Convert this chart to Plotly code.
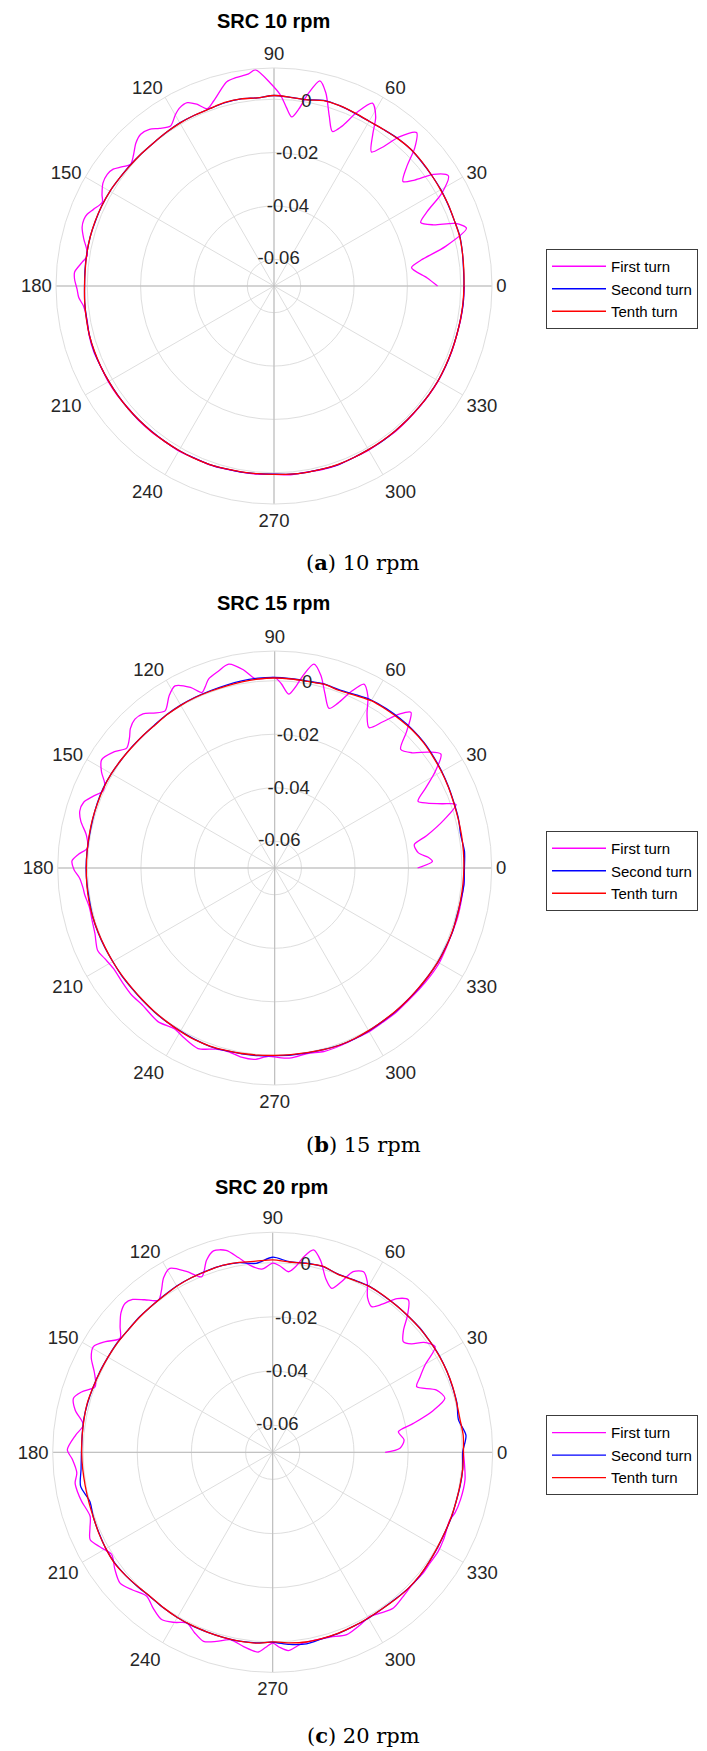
import plotly.graph_objects as go

# ---------------------------------------------------------------------------
# Angular sample grid (degrees) for the steady-state turns
# ---------------------------------------------------------------------------
theta_5deg = [0, 5, 10, 15, 20, 25, 30, 35, 40, 45, 50, 55, 60, 65, 70, 75, 80, 85,
              90, 95, 100, 105, 110, 115, 120, 125, 130, 135, 140, 145, 150, 155,
              160, 165, 170, 175, 180, 185, 190, 195, 200, 205, 210, 215, 220, 225,
              230, 235, 240, 245, 250, 255, 260, 265, 270, 275, 280, 285, 290, 295,
              300, 305, 310, 315, 320, 325, 330, 335, 340, 345, 350, 355, 360]

# ---------------------------- SRC 10 rpm -----------------------------------
rpm10_first_theta = [0, 3, 7.6, 10, 13, 16.7, 19, 21, 23.4, 26, 29, 32.3, 35, 37, 39,
                     42, 44.5, 47.1, 50, 52, 54, 57, 59, 61.7, 64.5, 67, 69.3, 72, 75,
                     77.4, 80, 82, 84, 86, 88, 91, 94.9, 97, 100.4, 103, 105, 108,
                     110.6, 113, 115.3, 118, 120, 122.9, 126, 128.5, 131.3, 134, 137,
                     139.7, 142, 144, 146.2, 149, 152, 154, 157, 159, 160.7, 163, 166,
                     169, 170.9, 173, 176, 178, 181, 183.4, 186, 190, 195, 200, 205,
                     210, 215, 220, 225, 230, 235, 240, 245, 250, 255, 260, 265, 270,
                     275, 280, 285, 290, 295, 300, 305, 310, 315, 320, 325, 330, 335,
                     340, 345, 350, 355, 360]
rpm10_first_r = [-0.0087, -0.0125, -0.0180, -0.0140, -0.0040, 0.0053, 0.0020, -0.0060,
                 -0.0101, -0.0060, 0.0020, 0.0073, 0.0030, -0.0040, -0.0078, -0.0030,
                 0.0040, 0.0085, 0.0030, -0.0040, -0.0079, -0.0020, 0.0040, 0.0078,
                 0.0020, -0.0050, -0.0081, -0.0030, 0.0050, 0.0088, 0.0030, -0.0030,
                 -0.0063, -0.0030, 0.0015, 0.0060, 0.0113, 0.0100, 0.0094, 0.0086,
                 0.0064, 0.0030, 0.0010, 0.0040, 0.0060, 0.0055, 0.0040, 0.0014,
                 0.0030, 0.0050, 0.0057, 0.0045, 0.0020, 0.0005, 0.0025, 0.0045,
                 0.0052, 0.0048, 0.0030, 0.0016, 0.0035, 0.0050, 0.0055, 0.0052,
                 0.0035, 0.0015, 0.0009, 0.0025, 0.0049, 0.0048, 0.0038, 0.0033,
                 0.0018, 0.0012, 0.0017, 0.0019, 0.0016, 0.0017, 0.0016, 0.0013,
                 0.0015, 0.0014, 0.0012, 0.0014, 0.0011, 0.0012, 0.0010, 0.0008,
                 0.0008, 0.0006, 0.0010, 0.0008, 0.0011, 0.0012, 0.0009, 0.0010,
                 0.0008, 0.0010, 0.0009, 0.0009, 0.0010, 0.0011, 0.0010, 0.0010,
                 0.0009, 0.0011, 0.0012, 0.0013]
rpm10_second_r = [0.0012, 0.0013, 0.0017, 0.0021, 0.0019, 0.0020, 0.0022, 0.0022, 0.0023, 0.0025,
                  0.0022, 0.0016, 0.0013, 0.0015, 0.0019, 0.0020, 0.0009, 0.0010, 0.0014, 0.0008,
                  0.0012, 0.0011, 0.0007, 0.0006, 0.0006, 0.0003, 0.0001, 0.0002, 0.0004, 0.0006,
                  0.0010, 0.0012, 0.0012, 0.0013, 0.0012, 0.0011, 0.0010, 0.0012, 0.0013, 0.0016,
                  0.0017, 0.0016, 0.0015, 0.0014, 0.0014, 0.0013, 0.0012, 0.0012, 0.0012, 0.0011,
                  0.0011, 0.0009, 0.0008, 0.0006, 0.0005, 0.0008, 0.0009, 0.0010, 0.0011, 0.0009,
                  0.0008, 0.0009, 0.0008, 0.0008, 0.0008, 0.0009, 0.0010, 0.0010, 0.0009, 0.0009,
                  0.0010, 0.0012, 0.0012]
rpm10_tenth_r = [0.0012, 0.0014, 0.0017, 0.0020, 0.0019, 0.0021, 0.0021, 0.0022, 0.0024, 0.0025,
                 0.0021, 0.0016, 0.0013, 0.0016, 0.0019, 0.0019, 0.0008, 0.0010, 0.0014, 0.0008,
                 0.0012, 0.0012, 0.0007, 0.0006, 0.0005, 0.0003, 0.0001, 0.0002, 0.0003, 0.0006,
                 0.0010, 0.0012, 0.0013, 0.0013, 0.0012, 0.0010, 0.0010, 0.0012, 0.0014, 0.0016,
                 0.0016, 0.0016, 0.0015, 0.0015, 0.0014, 0.0013, 0.0013, 0.0012, 0.0012, 0.0012,
                 0.0011, 0.0009, 0.0007, 0.0006, 0.0006, 0.0008, 0.0009, 0.0010, 0.0010, 0.0009,
                 0.0008, 0.0008, 0.0008, 0.0008, 0.0008, 0.0009, 0.0010, 0.0009, 0.0009, 0.0009,
                 0.0010, 0.0011, 0.0012]

# ---------------------------- SRC 15 rpm -----------------------------------
rpm15_first_theta = [0, 2.4, 4, 6, 9.5, 12, 16, 19.3, 21, 23, 25, 28, 31, 34.4, 37, 40,
                     43.3, 46, 48.8, 51, 53.5, 56.1, 59, 61.5, 64.1, 66.5, 69, 71.2, 74,
                     76.5, 79.1, 81.5, 83.5, 85.4, 88, 90, 93, 96, 99, 102.7, 106, 109.3,
                     111, 112.5, 115, 118.7, 121.5, 124.9, 128, 130.5, 133.2, 136, 138,
                     141, 144, 148, 151, 153.5, 155.8, 158.5, 161, 163.7, 166.5, 170,
                     173.9, 176, 178, 180.5, 183, 186, 188, 192, 196, 200, 205, 208, 212,
                     217, 221.6, 226, 232.9, 238, 242, 247, 252, 256, 260, 264, 268, 272,
                     275, 280, 285, 290, 295, 300, 305, 310, 315, 320, 325, 330, 335, 340,
                     345, 350, 355, 360]
rpm15_first_r = [-0.0166, -0.0110, -0.0125, -0.0160, -0.0171, -0.0120, -0.0040, 0.0018,
                 -0.0030, -0.0080, -0.0109, -0.0060, 0.0000, 0.0053, 0.0020, -0.0030,
                 -0.0053, 0.0010, 0.0073, 0.0040, -0.0020, -0.0068, -0.0030, 0.0030,
                 0.0064, 0.0020, -0.0040, -0.0070, -0.0020, 0.0040, 0.0076, 0.0030,
                 -0.0020, -0.0048, -0.0010, 0.0012, 0.0010, 0.0012, 0.0050, 0.0081,
                 0.0065, 0.0048, 0.0025, 0.0010, 0.0045, 0.0076, 0.0055, 0.0016,
                 0.0035, 0.0058, 0.0063, 0.0050, 0.0030, 0.0012, 0.0040, 0.0063,
                 0.0040, 0.0010, 0.0003, 0.0030, 0.0055, 0.0059, 0.0045, 0.0015,
                 0.0004, 0.0035, 0.0058, 0.0050, 0.0030, 0.0020, 0.0017, 0.0008,
                 0.0010, 0.0015, 0.0030, 0.0020, 0.0010, 0.0012, 0.0015, 0.0012,
                 0.0021, 0.0008, 0.0020, 0.0033, 0.0012, 0.0008, 0.0018, 0.0019,
                 0.0004, 0.0010, 0.0012, 0.0004, 0.0010, 0.0008, 0.0005, 0.0006,
                 0.0004, 0.0005, 0.0003, 0.0005, 0.0008, 0.0010, 0.0007, 0.0006,
                 0.0008, 0.0008, 0.0009, 0.0009]
rpm15_second_r = [0.0009, 0.0012, 0.0006, 0.0011, 0.0013, 0.0017, 0.0021, 0.0025, 0.0029, 0.0030,
                  0.0029, 0.0027, 0.0024, 0.0015, 0.0008, 0.0012, 0.0009, 0.0010, 0.0012, 0.0012,
                  0.0010, 0.0007, 0.0005, 0.0004, 0.0003, 0.0001, -0.0002, -0.0002, 0.0000, 0.0002,
                  0.0005, 0.0007, 0.0006, 0.0004, 0.0003, 0.0004, 0.0005, 0.0004, 0.0003, 0.0004,
                  0.0003, 0.0001, -0.0001, -0.0001, -0.0002, -0.0001, 0.0001, 0.0003, 0.0004, 0.0007,
                  0.0009, 0.0007, 0.0005, 0.0004, 0.0001, 0.0002, 0.0002, 0.0003, 0.0005, 0.0005,
                  0.0003, 0.0001, 0.0001, 0.0000, 0.0001, 0.0002, 0.0004, 0.0004, 0.0006, 0.0004,
                  0.0006, 0.0010, 0.0009]
rpm15_tenth_r = [0.0007, 0.0008, 0.0009, 0.0010, 0.0012, 0.0016, 0.0020, 0.0023, 0.0027, 0.0028,
                 0.0026, 0.0024, 0.0022, 0.0012, 0.0006, 0.0011, 0.0008, 0.0009, 0.0010, 0.0009,
                 0.0006, 0.0004, 0.0003, 0.0003, 0.0002, 0.0000, -0.0003, -0.0002, -0.0001, 0.0002,
                 0.0005, 0.0006, 0.0005, 0.0005, 0.0004, 0.0004, 0.0004, 0.0005, 0.0005, 0.0004,
                 0.0002, 0.0000, -0.0001, -0.0002, -0.0003, -0.0002, 0.0000, 0.0002, 0.0005, 0.0008,
                 0.0008, 0.0006, 0.0004, 0.0002, 0.0000, 0.0000, 0.0001, 0.0003, 0.0005, 0.0004,
                 0.0002, 0.0000, 0.0000, 0.0000, 0.0000, 0.0002, 0.0004, 0.0005, 0.0005, 0.0005,
                 0.0005, 0.0006, 0.0007]

# ---------------------------- SRC 20 rpm -----------------------------------
rpm20_first_theta = [0, 1.8, 5.4, 9.3, 11.6, 14.5, 17.4, 20.8, 24.5, 27, 29.8, 33, 36,
                     38, 40.3, 43, 45.5, 48.3, 51, 53.5, 55.8, 58.5, 61, 63.3, 66, 68,
                     70.2, 73, 76, 78.6, 81, 83, 85, 88, 90, 93.4, 97, 100, 103, 106.4,
                     109, 112, 115.5, 119.2, 122, 124.5, 126.9, 130, 132.5, 134.7, 137.5,
                     140.5, 143.3, 146.5, 149.5, 152.5, 156, 159.7, 162.5, 164.8, 168,
                     171.8, 175, 179.3, 182, 186, 188.8, 191.5, 194.4, 199.3, 202.5,
                     205.6, 209, 212.4, 216.5, 220.6, 224.5, 228.8, 232.5, 236.4, 240,
                     243.3, 246.5, 249.9, 253.5, 257.2, 261.5, 265.9, 268, 270, 272,
                     274.5, 277, 279, 283, 287.3, 292.1, 296.5, 300.7, 304, 307.8, 312,
                     317, 321, 324.9, 329, 333, 339.2, 341.6, 346, 351.9, 356, 360]
rpm20_first_r = [-0.0285, -0.0230, -0.0213, -0.0230, -0.0170, -0.0090, -0.0034, -0.0053,
                 -0.0116, -0.0090, -0.0052, 0.0015, -0.0010, -0.0050, -0.0068, -0.0040,
                 0.0010, 0.0053, 0.0030, -0.0020, -0.0050, -0.0030, 0.0020, 0.0046,
                 0.0030, -0.0020, -0.0057, -0.0030, 0.0030, 0.0062, 0.0030, -0.0010,
                 -0.0031, -0.0010, -0.0002, -0.0023, -0.0004, 0.0030, 0.0065, 0.0075,
                 0.0050, -0.0001, 0.0040, 0.0078, 0.0060, 0.0025, 0.0002, 0.0035,
                 0.0065, 0.0074, 0.0060, 0.0030, 0.0003, 0.0040, 0.0068, 0.0055,
                 0.0020, -0.0001, 0.0040, 0.0062, 0.0045, 0.0006, 0.0030, 0.0058,
                 0.0040, 0.0027, 0.0038, 0.0035, 0.0028, 0.0014, 0.0030, 0.0047,
                 0.0025, 0.0004, 0.0025, 0.0042, 0.0025, 0.0006, 0.0025, 0.0041,
                 0.0025, 0.0005, 0.0025, 0.0043, 0.0028, 0.0009, 0.0025, 0.0039,
                 0.0020, 0.0004, 0.0020, 0.0034, 0.0022, 0.0013, 0.0011, 0.0014,
                 0.0026, 0.0015, 0.0004, 0.0015, 0.0027, 0.0018, 0.0009, 0.0012,
                 0.0010, 0.0012, 0.0008, 0.0000, 0.0009, 0.0015, 0.0017, 0.0010, 0.0004]
rpm20_second_r = [0.0001, 0.0016, -0.0004, 0.0004, 0.0006, 0.0009, 0.0011, 0.0010, 0.0011, 0.0009,
                  0.0009, 0.0008, 0.0009, 0.0003, 0.0001, 0.0010, 0.0009, 0.0006, 0.0020, 0.0000,
                  0.0011, 0.0014, 0.0013, 0.0011, 0.0009, 0.0004, 0.0001, 0.0001, -0.0001, 0.0002,
                  0.0002, 0.0004, 0.0005, 0.0007, 0.0008, 0.0006, 0.0006, 0.0010, 0.0020, -0.0001,
                  0.0004, 0.0007, 0.0011, 0.0012, 0.0008, 0.0003, -0.0001, 0.0002, 0.0004, 0.0006,
                  0.0006, 0.0007, 0.0008, 0.0006, 0.0001, 0.0012, 0.0018, 0.0012, 0.0011, 0.0008,
                  0.0007, 0.0005, 0.0006, 0.0009, 0.0009, 0.0005, 0.0003, 0.0001, 0.0002, 0.0001,
                  0.0003, 0.0004, 0.0001]
rpm20_tenth_r = [0.0004, 0.0006, 0.0002, 0.0003, 0.0007, 0.0009, 0.0010, 0.0010, 0.0010, 0.0009,
                 0.0008, 0.0009, 0.0008, 0.0002, 0.0000, 0.0011, 0.0008, 0.0005, 0.0010, 0.0008,
                 0.0012, 0.0014, 0.0012, 0.0011, 0.0008, 0.0003, 0.0001, 0.0000, -0.0001, 0.0001,
                 0.0002, 0.0003, 0.0005, 0.0008, 0.0007, 0.0006, 0.0005, 0.0004, 0.0003, 0.0003,
                 0.0004, 0.0008, 0.0011, 0.0013, 0.0008, 0.0002, -0.0002, 0.0001, 0.0004, 0.0005,
                 0.0006, 0.0007, 0.0008, 0.0007, 0.0000, 0.0006, 0.0011, 0.0011, 0.0010, 0.0008,
                 0.0006, 0.0005, 0.0007, 0.0009, 0.0008, 0.0005, 0.0002, 0.0001, 0.0001, 0.0001,
                 0.0002, 0.0004, 0.0004]

# ---------------------------------------------------------------------------
# Axis ticks and labels
# ---------------------------------------------------------------------------
angle_ticks = [0, 30, 60, 90, 120, 150, 180, 210, 240, 270, 300, 330]
angle_labels = ["0", "30", "60", "90", "120", "150", "180", "210", "240", "270", "300", "330"]
radius_ticks = [-0.06, -0.04, -0.02, 0]
radius_labels = ["-0.06", "-0.04", "-0.02", "0"]
radius_label_angle = 80
series_names = ["First turn", "Second turn", "Tenth turn"]

panels = [
    dict(title="SRC 10 rpm", caption="(<b>a</b>) 10 rpm",
         first=(rpm10_first_theta, rpm10_first_r), second=rpm10_second_r, tenth=rpm10_tenth_r,
         rlim=(-0.07, 0.0117), cx=274.0, cy=286.0, R=218.0, cap_y=562.0),
    dict(title="SRC 15 rpm", caption="(<b>b</b>) 15 rpm",
         first=(rpm15_first_theta, rpm15_first_r), second=rpm15_second_r, tenth=rpm15_tenth_r,
         rlim=(-0.07, 0.0111), cx=274.7, cy=868.0, R=217.0, cap_y=1144.0),
    dict(title="SRC 20 rpm", caption="(<b>c</b>) 20 rpm",
         first=(rpm20_first_theta, rpm20_first_r), second=rpm20_second_r, tenth=rpm20_tenth_r,
         rlim=(-0.07, 0.0112), cx=272.7, cy=1452.3, R=220.0, cap_y=1735.0),
]

W, H = 707, 1751
SANS = "Liberation Sans, Arial, Helvetica, sans-serif"
SERIF = "DejaVu Serif, Liberation Serif, serif"
GRID = "#dedede"
AXISLINE = "#b9b9b9"
TEXT = "#262626"
COLORS = ["#ff00ff", "#0000ff", "#ff0000"]

fig = go.Figure()
annotations = []
layout_extra = {}

for i, p in enumerate(panels):
    sub = "polar" if i == 0 else f"polar{i + 1}"
    leg = "legend" if i == 0 else f"legend{i + 1}"
    rmin, rmax = p["rlim"]

    # darker 0-180 / 90-270 reference lines
    fig.add_trace(go.Scatterpolar(
        r=[rmax, rmin, rmax, None, rmax, rmin, rmax],
        theta=[0, 0, 180, None, 90, 90, 270],
        mode="lines", line=dict(color=AXISLINE, width=1),
        hoverinfo="skip", showlegend=False, subplot=sub, connectgaps=False))

    th1, r1 = p["first"]
    curves = [(th1, r1), (theta_5deg, p["second"]), (theta_5deg, p["tenth"])]
    for name, color, (th, rr) in zip(series_names, COLORS, curves):
        fig.add_trace(go.Scatterpolar(
            r=rr, theta=th, mode="lines", name=name,
            line=dict(color=color, width=1.3, shape="spline", smoothing=0.8),
            subplot=sub, legend=leg, showlegend=True))

    # radial tick labels centred on the 80-degree spoke
    fig.add_trace(go.Scatterpolar(
        r=radius_ticks, theta=[radius_label_angle] * len(radius_ticks),
        text=radius_labels, mode="text", textposition="middle center",
        textfont=dict(family=SANS, size=18.5, color=TEXT),
        hoverinfo="skip", showlegend=False, subplot=sub))

    x0 = (p["cx"] - p["R"]) / W
    x1 = (p["cx"] + p["R"]) / W
    y0 = 1 - (p["cy"] + p["R"]) / H
    y1 = 1 - (p["cy"] - p["R"]) / H
    layout_extra[sub] = dict(
        domain=dict(x=[x0, x1], y=[y0, y1]),
        bgcolor="white",
        angularaxis=dict(
            rotation=0, direction="counterclockwise",
            tickmode="array", tickvals=angle_ticks, ticktext=angle_labels,
            ticks="", showline=True, linecolor=GRID, linewidth=1,
            showgrid=True, gridcolor=GRID, gridwidth=1,
            tickfont=dict(family=SANS, size=18.5, color=TEXT)),
        radialaxis=dict(
            range=[rmin, rmax], tickmode="array", tickvals=radius_ticks,
            angle=radius_label_angle, showticklabels=False, ticks="",
            showline=False, showgrid=True, gridcolor=GRID, gridwidth=1),
    )
    layout_extra[leg] = dict(
        x=546 / W, y=1 - (p["cy"] - 37) / H, xanchor="left", yanchor="top",
        bgcolor="white", bordercolor="#3c3c3c", borderwidth=1,
        font=dict(family=SANS, size=15, color="black"),
        itemwidth=54, tracegroupgap=0)

    annotations.append(dict(
        text=f"<b>{p['title']}</b>", x=(p["cx"] - 1) / W, y=1 - (p["cy"] - 265) / H,
        xref="paper", yref="paper", xanchor="center", yanchor="middle",
        showarrow=False, font=dict(family=SANS, size=20, color="black")))
    annotations.append(dict(
        text=p["caption"], x=363 / W, y=1 - p["cap_y"] / H,
        xref="paper", yref="paper", xanchor="center", yanchor="middle",
        showarrow=False, font=dict(family=SERIF, size=21, color="black")))

fig.update_layout(
    width=W, height=H, autosize=False,
    margin=dict(l=0, r=0, t=0, b=0),
    paper_bgcolor="white", plot_bgcolor="white",
    annotations=annotations, **layout_extra)

fig.write_html("out.html")
